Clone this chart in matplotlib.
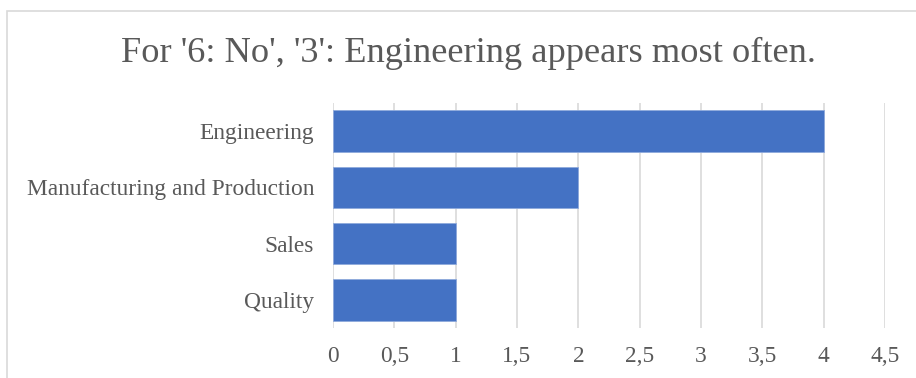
import matplotlib
matplotlib.use("Agg")
import matplotlib.pyplot as plt
from matplotlib.patches import Rectangle
from matplotlib.ticker import MultipleLocator, FuncFormatter

categories = ["Engineering", "Manufacturing and Production", "Sales", "Quality"]
counts = [4, 2, 1, 1]
title = "For '6: No', '3': Engineering appears most often."

TEXT = "#595959"
BAR = "#4472C4"
GRID = "#D9D9D9"

plt.rcParams["font.family"] = ["Liberation Serif", "DejaVu Serif"]

fig = plt.figure(figsize=(9.16, 3.78), dpi=100)
W, H = 916, 378
ax = fig.add_axes([333 / W, 1 - 328 / H, (885 - 333) / W, (328 - 103) / H])

y = list(range(len(categories)))
ax.barh(y, counts, height=0.74, color=BAR, edgecolor="#8FAADC", linewidth=0.6, zorder=3)
ax.set_ylim(len(categories) - 0.5, -0.5)
ax.set_xlim(0, 4.5)
ax.set_yticks(y)
ax.set_yticklabels(categories)
ax.xaxis.set_major_locator(MultipleLocator(0.5))
ax.xaxis.set_major_formatter(FuncFormatter(lambda v, p: f"{v:g}".replace(".", ",")))
ax.grid(axis="x", color=GRID, linewidth=1.2, zorder=0)
ax.grid(axis="y", visible=False)
for s in ax.spines.values():
    s.set_visible(False)
ax.tick_params(axis="both", length=0, labelsize=16.8, labelcolor=TEXT)
ax.tick_params(axis="x", pad=13)
ax.tick_params(axis="y", pad=13.5)

fig.text(468 / W, 1 - 53 / H, title, ha="center", va="center", fontsize=26.2, color=TEXT)

# chart-area frame
fig.patches.append(Rectangle((6.5 / W, -0.2), 2.0, 1.2 - 11 / H,
                             transform=fig.transFigure, fill=False,
                             edgecolor=GRID, linewidth=1.2))

fig.savefig("out.png", dpi=100)
